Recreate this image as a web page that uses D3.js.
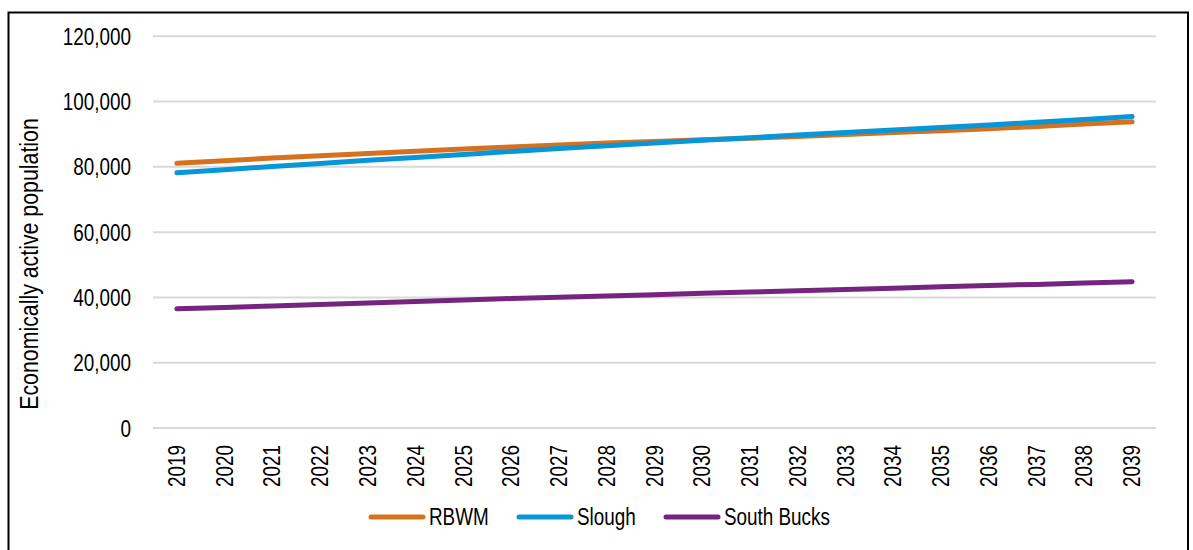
<!DOCTYPE html>
<html>
<head>
<meta charset="utf-8">
<script src="https://cdn.jsdelivr.net/npm/d3@7"></script>
<style>
  html, body { margin: 0; padding: 0; background: #fff; }
  svg { display: block; }
  text { font-family: "Liberation Sans Narrow", "Arial Narrow", "Liberation Sans", Arial, sans-serif; fill: #000; }
</style>
</head>
<body>
<svg id="chart" width="1193" height="550"></svg>
<script>
// Economically active population projections, 2019–2039
const years = ["2019","2020","2021","2022","2023","2024","2025","2026","2027","2028","2029",
               "2030","2031","2032","2033","2034","2035","2036","2037","2038","2039"];
const rbwm = [81100, 81900, 82700, 83400, 84100, 84800, 85500, 86100, 86700, 87300, 87800,
              88300, 88800, 89300, 89900, 90500, 91100, 91700, 92400, 93100, 93800];
const slough = [78200, 79150, 80100, 81050, 82000, 82900, 83800, 84700, 85600, 86450, 87300,
                88150, 88950, 89750, 90550, 91300, 92050, 92850, 93650, 94500, 95400];
const southBucks = [36500, 36950, 37400, 37850, 38300, 38750, 39200, 39650, 40050, 40450, 40850,
                    41250, 41650, 42050, 42450, 42850, 43250, 43650, 44000, 44400, 44800];
const yTicks = [0, 20000, 40000, 60000, 80000, 100000, 120000];
const seriesNames = ["RBWM", "Slough", "South Bucks"];
const seriesColors = ["#D5711F", "#0796D7", "#75247F"];

const series = [rbwm, slough, southBucks].map((values, i) => ({
  name: seriesNames[i], color: seriesColors[i], values
}));

const svg = d3.select("#chart");

// condensed text: squeeze glyphs to a narrow width when no narrow face is present
const NARROW = 0.82;
function condense(sel) {
  sel.each(function () {
    const w = this.getComputedTextLength();
    d3.select(this)
      .attr("textLength", w * NARROW)
      .attr("lengthAdjust", "spacingAndGlyphs");
  });
}

// outer frame
svg.append("rect")
  .attr("x", 8.5).attr("y", 12.5)
  .attr("width", 1179.5).attr("height", 580)
  .attr("fill", "none").attr("stroke", "#000").attr("stroke-width", 2);

const x = d3.scaleBand().domain(years).range([153, 1156]);
const y = d3.scaleLinear().domain([0, 120000]).range([428, 36.3]);

// gridlines
svg.append("g")
  .selectAll("line")
  .data(yTicks)
  .join("line")
  .attr("x1", 153).attr("x2", 1156)
  .attr("y1", d => y(d)).attr("y2", d => y(d))
  .attr("stroke", "#d9d9d9").attr("stroke-width", 2);

// y axis
const yAxis = svg.append("g")
  .attr("transform", "translate(153,0)")
  .call(d3.axisLeft(y).tickValues(yTicks).tickSize(0).tickPadding(22)
        .tickFormat(d3.format(",")));
yAxis.select(".domain").remove();
yAxis.selectAll("text").style("font-size", "23px").attr("dy", "0.35em").call(condense);

// x axis with rotated year labels
const xAxis = svg.append("g")
  .attr("transform", "translate(0,428)")
  .call(d3.axisBottom(x).tickSize(0));
xAxis.select(".domain").remove();
xAxis.selectAll("text")
  .style("font-size", "23px")
  .attr("transform", "rotate(-90)")
  .attr("text-anchor", "end")
  .attr("x", -17)
  .attr("y", 0)
  .attr("dy", "0.35em")
  .call(condense);

// y axis title
svg.append("text")
  .attr("transform", "translate(38,264) rotate(-90)")
  .attr("text-anchor", "middle")
  .style("font-size", "26px")
  .text("Economically active population")
  .call(condense);

// lines
const line = d3.line()
  .x((d, i) => x(years[i]) + x.bandwidth() / 2)
  .y(d => y(d));

svg.append("g")
  .selectAll("path")
  .data(series)
  .join("path")
  .attr("d", d => line(d.values))
  .attr("fill", "none")
  .attr("stroke", d => d.color)
  .attr("stroke-width", 5)
  .attr("stroke-linecap", "round")
  .attr("stroke-linejoin", "round");

// legend
const legendX = [371, 519, 666];
const legend = svg.append("g")
  .selectAll("g")
  .data(series)
  .join("g")
  .attr("transform", (d, i) => `translate(${legendX[i]},517)`);
legend.append("line")
  .attr("x1", 0).attr("x2", 52)
  .attr("stroke", d => d.color)
  .attr("stroke-width", 5)
  .attr("stroke-linecap", "round");
legend.append("text")
  .attr("x", 58)
  .attr("dy", "0.35em")
  .style("font-size", "23px")
  .text(d => d.name)
  .call(condense);
</script>
</body>
</html>
